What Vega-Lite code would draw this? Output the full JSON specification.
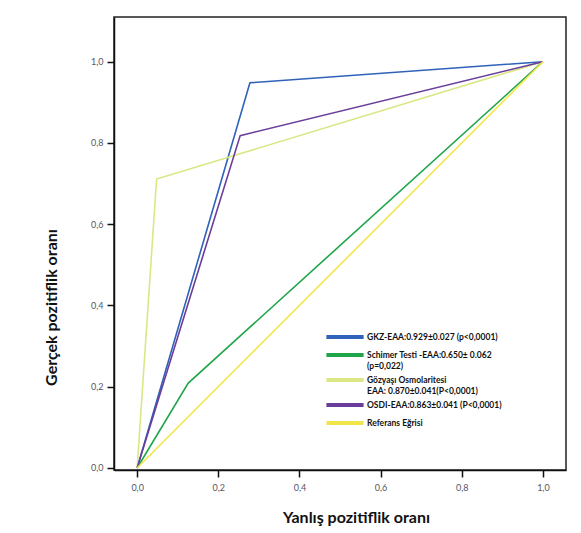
{
  "$schema": "https://vega.github.io/schema/vega-lite/v6.json",
  "autosize": {"type": "none"},
  "width": 452,
  "height": 453,
  "padding": {"left": 114, "top": 17, "right": 15, "bottom": 63},
  "background": "white",
  "config": {
    "font": "Lato",
    "view": {"stroke": "#222", "strokeWidth": 1.5},
    "axis": {"grid": false, "domainColor": "#111", "domainWidth": 1.5, "tickColor": "#111", "tickWidth": 1.5, "tickSize": 7, "labelFont": "Lato", "labelFontSize": 9, "labelColor": "#556", "titleFont": "Lato", "titleFontWeight": "bold", "titleFontSize": 16, "titleColor": "#111"}
  },
  "data": {
    "values": [
      {"series": "GKZ", "fpr": 0, "tpr": 0, "k": 0},
      {"series": "GKZ", "fpr": 0.278, "tpr": 0.948, "k": 1},
      {"series": "GKZ", "fpr": 1, "tpr": 1, "k": 2},
      {"series": "Schimer", "fpr": 0, "tpr": 0, "k": 0},
      {"series": "Schimer", "fpr": 0.126, "tpr": 0.209, "k": 1},
      {"series": "Schimer", "fpr": 1, "tpr": 1, "k": 2},
      {"series": "Gozyasi", "fpr": 0, "tpr": 0, "k": 0},
      {"series": "Gozyasi", "fpr": 0.048, "tpr": 0.711, "k": 1},
      {"series": "Gozyasi", "fpr": 1, "tpr": 1, "k": 2},
      {"series": "OSDI", "fpr": 0, "tpr": 0, "k": 0},
      {"series": "OSDI", "fpr": 0.254, "tpr": 0.818, "k": 1},
      {"series": "OSDI", "fpr": 1, "tpr": 1, "k": 2},
      {"series": "Referans", "fpr": 0, "tpr": 0, "k": 0},
      {"series": "Referans", "fpr": 1, "tpr": 1, "k": 2}
    ]
  },
  "mark": {"type": "line", "strokeWidth": 1.6, "clip": true},
  "encoding": {
    "x": {
      "field": "fpr", "type": "quantitative",
      "scale": {"domain": [-0.057, 1.057], "nice": false, "zero": false},
      "axis": {"values": [0, 0.2, 0.4, 0.6, 0.8, 1], "labelExpr": "replace(format(datum.value, '.1f'), '.', ',')", "labelPadding": 6, "title": "Yanlış pozitiflik oranı", "titleX": 242, "titleY": 47, "titleBaseline": "middle"}
    },
    "y": {
      "field": "tpr", "type": "quantitative",
      "scale": {"domain": [-0.005, 1.11], "nice": false, "zero": false},
      "axis": {"values": [0, 0.2, 0.4, 0.6, 0.8, 1], "labelExpr": "replace(format(datum.value, '.1f'), '.', ',')", "labelPadding": 4, "title": "Gerçek pozitiflik oranı", "titleX": -63, "titleY": 290, "titleAngle": 270, "titleAlign": "center", "titleBaseline": "middle"}
    },
    "order": {"field": "k", "type": "quantitative"},
    "color": {
      "field": "series", "type": "nominal",
      "scale": {
        "domain": ["GKZ", "Schimer", "Gozyasi", "OSDI", "Referans"],
        "range": ["#2f62b8", "#20a64a", "#dbe784", "#6a3d9a", "#f3e64a"]
      },
      "legend": {
        "orient": "none", "legendX": 223, "legendY": 312,
        "title": null,
        "symbolType": "M-3.1,0H3.1", "symbolStrokeWidth": 4, "symbolSize": 144,
        "labelOffset": 14,
        "labelFont": "Lato", "labelFontSize": 8.5, "labelFontWeight": "bold", "labelColor": "#111",
        "labelLimit": 300, "rowPadding": 2,
        "labelExpr": "datum.label == 'GKZ' ? 'GKZ-EAA:0.929±0.027   (p<0,0001)' : datum.label == 'Schimer' ? ['Schimer Testi -EAA:0.650± 0.062', '(p=0,022)'] : datum.label == 'Gozyasi' ? ['Gözyaşı Osmolaritesi', 'EAA: 0.870±0.041(P<0,0001)'] : datum.label == 'OSDI' ? 'OSDI-EAA:0.863±0.041 (P<0,0001)' : 'Referans Eğrisi'"
      }
    }
  }
}
